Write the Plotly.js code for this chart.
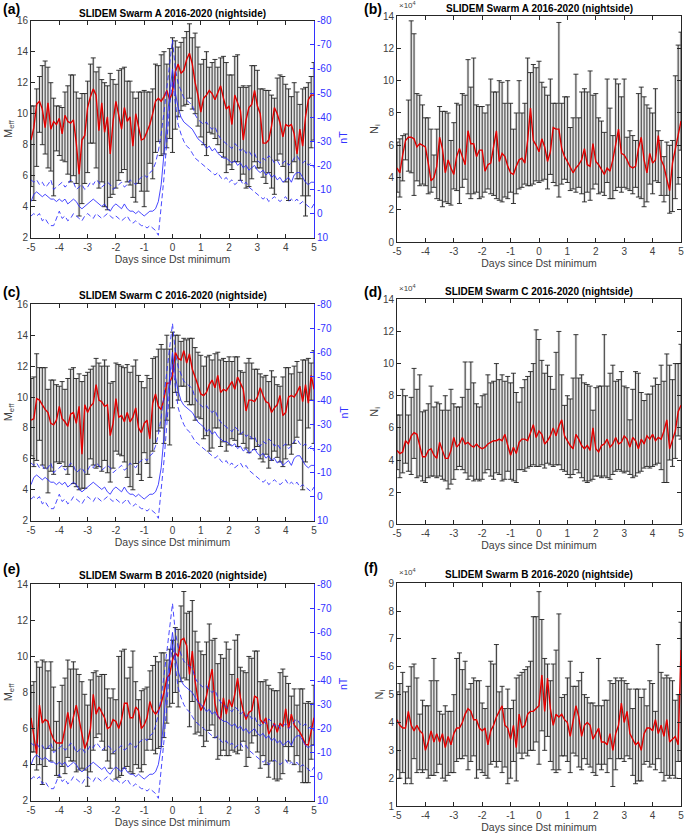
<!DOCTYPE html>
<html><head><meta charset="utf-8">
<script src="https://cdn.plot.ly/plotly-3.0.1.min.js"></script>
<style>html,body{margin:0;padding:0;background:#fff}#chart{width:685px;height:835px}</style>
</head><body><div id="chart"></div>
<script>
// ---------------- data ----------------
const days = [-5,-4.9,-4.8,-4.7,-4.6,-4.5,-4.4,-4.3,-4.2,-4.1,-4,-3.9,-3.8,-3.7,-3.6,-3.5,-3.4,-3.3,-3.2,-3.1,-3,-2.9,-2.8,-2.7,-2.6,-2.5,-2.4,-2.3,-2.2,-2.1,-2,-1.9,-1.8,-1.7,-1.6,-1.5,-1.4,-1.3,-1.2,-1.1,-1,-0.9,-0.8,-0.7,-0.6,-0.5,-0.4,-0.3,-0.2,-0.1,0,0.1,0.2,0.3,0.4,0.5,0.6,0.7,0.8,0.9,1,1.1,1.2,1.3,1.4,1.5,1.6,1.7,1.8,1.9,2,2.1,2.2,2.3,2.4,2.5,2.6,2.7,2.8,2.9,3,3.1,3.2,3.3,3.4,3.5,3.6,3.7,3.8,3.9,4,4.1,4.2,4.3,4.4,4.5,4.6,4.7,4.8,4.9,5];
const dayTickVals = [-5,-4,-3,-2,-1,0,1,2,3,4,5];
const dayTickText = ['-5','-4','-3','-2','-1','0','1','2','3','4','5'];
const meffTicksAC = [2,4,6,8,10,12,14,16];
const meffTicksE = [2,4,6,8,10,12,14];
const niTicksBD = [0,2,4,6,8,10,12,14];
const niTicksF = [1,2,3,4,5,6,7,8,9];
const dstTickVals = [-80,-70,-60,-50,-40,-30,-20,-10,0,10];
const dstTickText = ['-80','-70','-60','-50','-40','-30','-20','-10','0','10'];
const panelTitles = ['SLIDEM Swarm A 2016-2020 (nightside)','SLIDEM Swarm A 2016-2020 (nightside)','SLIDEM Swarm C 2016-2020 (nightside)','SLIDEM Swarm C 2016-2020 (nightside)','SLIDEM Swarm B 2016-2020 (nightside)','SLIDEM Swarm B 2016-2020 (nightside)'];
const panelLetters = ['(a)','(b)','(c)','(d)','(e)','(f)'];

// Panel (a): M_eff Swarm A
const meanA = [8.3,9.1,10.6,10.8,10.3,9.1,10.7,9.0,9.5,9.3, 9.7,8.7,9.9,9.5,9.4,9.6,8.1,6.1,8.3,8.6, 10.4,11.1,11.6,11.2,8.9,10.7,8.8,9.8,7.4,9.5, 10.8,10.0,9.0,10.4,9.5,9.8,7.9,10.0,9.2,8.3, 8.4,8.8,9.3,10.0,10.8,11.0,10.8,11.1,11.5,10.9, 11.4,12.7,13.2,12.6,12.8,13.5,13.9,13.2,12.0,11.2, 10.1,11.0,11.2,11.5,11.3,10.9,11.4,11.8,11.0,10.3, 10.5,9.3,11.2,10.7,10.2,8.3,9.6,10.4,10.6,11.5, 10.5,10.0,8.1,8.1,8.3,9.2,10.4,10.0,9.4,8.5, 9.3,9.2,9.3,8.7,7.4,9.0,7.9,9.8,10.9,11.2,11.2];
const hiA = [10.5,10.5,11.6,12.4,13.1,13.4,13.0,12.0,11.0,10.5, 10.5,10.4,11.4,11.8,12.5,12.5,11.4,11.0,11.3,11.3, 12.1,13.2,13.6,12.7,13.0,12.2,12.0,11.8,12.6,12.2, 11.9,12.8,12.9,13.0,12.1,12.1,11.4,11.0,11.4,11.4, 11.5,11.4,11.4,11.6,13.2,13.1,13.8,14.0,13.2,14.2, 14.9,14.7,14.3,14.6,14.9,15.3,15.8,14.9,15.2,14.3, 13.2,13.5,14.0,13.0,13.3,13.5,13.0,13.6,13.7,13.3, 12.5,12.5,13.7,13.8,11.7,11.8,11.7,11.8,13.1,13.1, 12.8,11.6,11.6,11.5,11.5,11.2,11.0,12.3,12.5,12.4, 11.9,11.6,11.1,12.0,11.4,10.6,11.6,11.7,12.0,12.4,13.3];
const loA = [5.3,4.4,6.6,8.8,8.0,7.4,6.5,6.3,4.7,7.6, 7.3,7.0,6.9,6.1,5.6,6.0,5.5,3.4,4.2,5.5, 6.2,8.1,8.1,6.5,5.2,5.6,4.0,3.8,4.6,4.8, 5.2,5.7,6.2,6.4,5.6,5.4,4.6,4.3,5.5,5.0, 4.0,5.0,6.8,5.8,7.5,8.2,7.3,7.4,7.8,8.4, 7.5,9.0,9.8,10.2,10.5,10.6,11.0,10.3,10.0,9.2, 8.5,8.0,7.3,8.8,8.7,8.4,8.0,7.5,7.2,6.2, 6.7,6.4,6.9,6.9,5.7,6.1,5.2,5.3,5.8,6.9, 6.5,6.5,5.9,5.5,6.2,5.2,4.8,7.0,7.4,6.6, 5.6,4.4,6.2,6.9,5.8,5.8,4.7,3.4,4.7,7.8,8.3];

// Panel (b): N_i Swarm A (x10^4)
const meanB = [4.6,4.3,5.4,6.3,6.5,6.5,6.4,5.9,6.1,6.0, 5.9,4.9,3.8,4.0,4.7,6.5,5.8,4.3,5.1,4.6, 4.2,5.3,5.8,5.3,4.8,6.9,6.1,6.1,5.3,5.7, 5.7,4.4,4.8,4.9,5.9,6.9,5.0,5.5,5.3,4.7, 4.3,4.2,4.7,5.1,5.2,4.9,6.3,8.3,6.3,6.0, 5.6,6.4,5.9,5.0,5.6,7.1,7.0,7.0,5.8,5.3, 5.0,4.6,4.3,4.6,4.8,5.1,5.8,4.8,4.7,6.1, 5.0,4.8,4.5,4.2,4.6,4.4,5.1,6.1,7.0,5.5, 5.4,5.1,4.7,4.6,4.7,5.8,6.5,5.1,4.3,5.5, 4.9,5.1,6.6,5.1,4.7,3.9,3.2,4.9,5.7,6.7,7.5];
const hiB = [6.2,6.4,6.6,6.7,8.8,13.7,12.9,9.2,9.1,8.5, 7.7,7.7,7.0,5.4,7.0,8.4,8.1,8.1,8.0,6.3, 7.4,8.6,8.5,9.2,9.1,11.3,9.6,11.4,8.5,8.4, 8.4,8.0,8.5,10.1,9.3,9.3,10.0,9.9,8.6,10.0, 8.6,7.0,8.0,10.0,8.0,8.6,11.4,10.5,11.0,10.8, 11.2,9.9,9.6,9.1,10.1,8.6,8.6,13.6,8.6,9.0, 9.0,7.1,7.7,10.4,7.7,9.3,9.5,9.3,10.6,9.1, 9.2,7.7,7.5,6.8,10.1,8.3,6.6,10.1,9.8,9.0, 10.1,6.5,6.9,6.6,6.3,9.2,9.6,9.0,8.5,8.3, 8.0,9.5,6.9,6.3,5.3,6.2,6.0,6.3,10.3,12.2,13.0];
const loB = [3.1,2.8,3.8,5.1,4.4,4.3,2.9,3.8,3.5,3.6, 3.5,3.0,3.1,3.4,2.7,2.6,2.2,2.5,2.4,2.3, 3.3,3.2,2.4,3.4,3.9,3.0,2.7,3.0,3.1,2.7, 2.8,3.1,3.3,3.0,2.9,2.7,2.6,2.5,2.8,2.7, 3.1,2.4,3.0,3.3,3.4,3.6,3.5,3.5,3.6,3.8, 3.7,3.8,3.9,3.3,4.2,3.7,3.5,2.8,3.6,3.9, 3.7,3.2,3.3,3.1,3.4,3.0,2.5,3.1,2.6,3.3, 3.6,3.0,3.1,2.9,3.7,2.7,2.7,3.2,3.4,3.1, 3.4,3.3,3.2,3.0,3.4,2.8,2.7,2.2,2.5,3.6, 3.0,3.8,3.7,2.9,2.5,2.9,1.8,1.9,2.7,3.6,5.7];

// Panel (c): M_eff Swarm C
const meanC = [8.5,8.6,9.9,9.8,9.5,9.2,9.0,8.3,8.2,8.5, 9.4,8.6,8.4,8.1,8.9,9.0,8.3,9.4,6.3,9.5, 9.0,9.4,9.6,10.8,9.8,9.7,9.4,9.5,7.5,8.3, 9.9,8.7,8.8,8.4,9.0,8.4,8.7,9.3,8.0,7.7, 8.3,8.5,7.3,9.6,10.2,9.4,9.2,9.9,10.9,10.9, 11.4,12.9,12.5,12.4,13.0,12.2,12.8,11.8,11.3,10.7, 10.2,10.1,10.3,10.8,11.1,10.6,11.4,10.3,10.5,10.4, 10.7,11.0,10.5,11.3,10.9,10.5,9.1,9.8,9.8,9.7, 10.0,10.6,10.1,9.7,9.6,9.0,9.3,9.5,10.1,8.8, 9.0,10.0,10.1,10.0,10.3,10.7,9.7,10.8,9.6,11.4,10.5];
const hiC = [11.2,11.3,12.8,11.9,11.9,11.9,10.5,11.1,11.1,10.8, 10.7,11.0,10.5,11.2,11.8,11.9,11.2,11.5,11.0,11.4, 11.6,11.8,12.0,12.5,12.2,12.0,12.4,12.0,10.9,11.0, 12.2,12.1,12.0,11.9,12.1,11.6,12.0,12.4,11.4,11.0, 10.6,11.4,11.2,12.5,12.6,13.1,13.4,13.1,14.0,13.1, 14.2,14.0,14.0,13.6,13.8,13.7,13.8,13.8,13.2,12.9, 12.7,12.0,12.6,12.7,12.4,12.8,12.9,12.4,12.5,12.3, 12.6,12.3,12.6,12.6,11.7,11.6,12.2,12.5,12.2,11.8, 11.8,11.5,11.3,11.4,11.0,11.7,11.3,10.8,10.7,11.3, 11.9,11.9,11.5,12.0,12.3,11.6,12.4,12.4,12.5,12.2,13.0];
const loC = [6.2,5.5,5.9,7.2,5.6,5.4,3.8,5.2,5.0,5.8, 5.7,5.8,5.5,5.0,5.5,4.4,4.2,4.0,4.1,4.1, 5.0,6.0,5.6,5.4,5.5,5.2,5.9,5.1,4.5,5.4, 6.5,6.3,6.2,5.8,4.8,4.2,4.0,5.7,5.0,4.6, 6.4,5.7,4.8,6.5,7.0,7.8,8.0,7.0,8.5,6.9, 9.3,10.3,9.8,10.7,10.7,9.7,9.5,9.5,8.5,8.7, 8.6,7.3,7.5,6.5,6.7,8.0,8.0,6.8,7.1,6.5, 6.9,7.3,7.2,6.8,7.6,7.0,6.7,6.4,7.3,6.6, 6.8,6.0,5.8,6.3,5.4,5.9,6.5,6.1,5.8,5.5, 6.0,6.9,6.3,7.0,7.4,8.5,4.0,5.8,8.0,9.8,7.0];

// Panel (d): N_i Swarm C (x10^4)
const meanD = [4.6,4.4,4.5,5.2,5.0,5.5,5.7,5.6,4.9,4.2, 4.2,4.6,4.7,4.3,4.1,5.1,4.6,4.1,4.1,4.6, 5.4,4.8,5.0,5.4,5.0,5.1,4.9,4.8,5.0,4.8, 4.7,4.8,5.0,5.1,5.2,5.2,5.3,5.2,5.6,4.9, 4.3,4.8,4.4,5.1,5.3,5.3,5.2,5.7,6.2,5.4, 5.8,5.6,5.0,5.2,5.5,6.0,5.5,6.1,6.5,5.5, 5.2,4.9,4.7,5.6,5.3,4.9,4.7,4.9,4.6,6.0, 4.7,4.5,4.9,5.0,5.3,4.8,5.0,5.4,5.0,5.1, 5.5,5.3,4.8,5.4,5.2,4.7,5.3,5.0,5.5,5.3, 5.6,5.2,5.4,5.3,5.8,6.5,4.7,5.3,5.8,7.0,7.4];
const hiD = [6.8,6.8,8.4,8.0,6.8,7.9,9.7,8.4,9.3,7.0, 7.1,7.5,8.6,7.3,7.6,7.5,7.1,8.0,7.1,8.4, 7.5,7.3,7.3,7.9,10.1,8.4,10.1,8.8,7.5,7.3, 8.0,8.1,9.3,8.8,8.9,10.0,9.0,9.3,8.9,9.2, 8.8,9.4,8.2,7.6,8.5,9.0,9.2,9.5,10.0,12.1, 11.5,10.2,9.4,9.9,9.2,8.4,10.7,12.0,9.3,7.4, 8.0,7.8,9.1,11.8,9.1,9.3,8.8,8.7,8.6,7.1, 8.5,8.6,8.6,11.8,8.6,9.4,9.9,8.9,9.0,9.5, 8.6,8.5,6.5,8.4,9.5,9.4,8.2,7.7,8.1,8.1, 8.6,9.1,8.7,9.9,8.9,10.6,9.9,9.0,10.0,10.0,11.2];
const loD = [3.4,2.9,3.2,3.8,3.3,3.1,4.1,2.9,3.0,2.7, 2.6,2.9,3.0,3.0,2.9,3.0,2.8,2.7,2.2,2.5, 2.8,3.4,3.6,3.4,3.2,2.8,3.0,2.7,2.8,2.7, 2.8,3.2,3.4,3.0,2.8,3.2,3.1,2.7,2.8,3.3, 2.8,2.7,2.6,3.4,3.4,3.3,3.5,3.6,3.7,3.6, 3.6,3.7,3.5,3.8,3.7,3.6,3.7,3.7,3.4,3.3, 3.1,2.9,3.1,3.4,3.2,2.9,2.7,2.6,2.7,2.8, 3.0,3.0,2.9,3.0,2.9,2.8,3.1,3.3,3.4,3.3, 3.2,3.3,3.1,2.9,3.0,3.2,3.3,3.5,3.6,3.5, 3.6,3.7,3.8,3.4,2.6,2.6,4.0,3.6,4.1,5.5,5.3];

// Panel (e): M_eff Swarm B
const meanE = [6.6,5.6,4.6,7.3,6.3,6.5,6.4,5.8,5.4,5.2, 5.2,5.2,6.0,6.9,6.0,6.7,7.3,6.5,5.6,4.9, 5.3,6.0,7.9,6.8,7.2,6.9,6.6,6.0,6.1,6.5, 6.4,6.0,6.5,7.4,7.4,6.6,6.6,7.2,7.0,6.0, 6.2,6.6,7.5,7.0,6.8,7.0,7.4,8.0,8.8,9.0, 9.8,10.2,10.0,10.9,11.0,10.6,9.0,10.3,8.6,7.6, 7.0,7.3,7.8,8.6,9.3,7.4,6.7,6.5,7.7,6.8, 7.6,7.2,7.9,8.8,7.7,7.0,6.5,6.9,7.0,7.8, 7.7,6.5,6.3,6.6,5.7,6.0,6.3,5.8,6.3,6.1, 7.1,6.0,6.8,6.2,6.0,5.8,5.5,5.1,5.1,5.8,6.6];
const hiE = [8.4,8.6,9.7,9.4,9.8,9.7,9.2,9.7,8.3,6.4, 7.5,8.4,8.8,9.8,9.3,9.7,9.3,9.0,8.6,7.9, 7.3,8.7,9.1,9.2,8.9,9.0,9.0,8.2,7.7,8.2, 7.6,10.0,10.3,10.4,8.8,9.4,10.3,8.6,7.6,8.1, 8.2,8.3,9.2,9.5,10.0,9.7,10.2,10.2,9.8,10.4, 10.9,11.6,11.5,12.8,13.6,12.4,12.5,13.1,11.4,10.8, 10.3,10.1,10.8,11.8,10.9,11.0,9.6,10.1,9.9,10.8, 10.4,9.0,10.9,11.2,9.4,9.2,9.1,10.0,9.9,10.3, 10.3,8.6,8.6,8.7,8.4,8.2,8.1,8.1,9.1,9.3, 8.9,8.5,7.8,8.2,7.3,8.2,8.2,7.4,7.5,7.4,8.4];
const loE = [4.7,4.7,3.7,4.0,2.9,3.9,4.9,4.2,4.8,3.4, 3.3,3.9,3.5,4.4,4.2,4.2,3.6,3.7,3.8,3.7, 2.8,3.6,4.8,5.5,5.7,5.3,4.8,4.2,3.8,4.6, 3.2,3.3,3.4,3.8,3.9,3.6,3.5,4.0,3.8,3.6, 4.0,4.8,5.4,4.8,4.6,4.9,5.0,5.5,6.3,7.2, 7.4,8.0,7.2,8.6,8.8,8.7,6.1,7.5,5.7,5.8, 5.6,5.0,5.3,5.9,6.2,5.5,4.3,4.5,4.8,4.5, 4.5,4.8,4.7,4.6,4.8,5.3,3.9,4.4,5.2,5.6, 4.7,3.8,4.5,4.0,3.3,4.2,3.2,3.1,3.2,3.5, 5.0,4.2,5.0,4.0,4.5,3.6,3.0,3.0,3.0,4.3,5.1];

// Panel (f): N_i Swarm B (x10^4)
const meanF = [4.1,3.9,3.8,3.8,4.4,3.9,3.7,3.9,3.7,3.6, 3.0,3.3,3.7,3.3,3.6,3.3,3.6,3.1,3.5,3.2, 3.6,3.8,3.8,4.0,4.3,4.5,4.4,4.1,4.1,3.8, 3.7,3.8,3.2,3.7,3.9,4.2,4.4,4.6,3.9,3.8, 3.4,3.9,3.1,4.3,3.8,3.9,4.3,4.4,4.4,4.5, 4.6,5.7,4.4,5.6,4.5,3.9,4.3,4.2,4.3,4.1, 4.0,3.5,4.0,4.6,4.2,3.5,3.9,4.0,3.9,3.4, 3.6,3.8,3.3,3.3,3.2,3.6,3.0,3.6,3.9,4.7, 4.0,4.4,3.6,3.4,3.2,3.3,3.0,3.6,3.8,3.8, 3.7,4.1,3.6,3.9,3.5,4.1,3.3,3.4,3.5,3.2,6.6];
const hiF = [5.1,5.4,5.8,5.1,5.3,6.0,6.1,5.6,4.3,4.8, 4.6,4.6,5.5,6.3,5.5,4.4,4.3,4.6,4.4,4.4, 5.0,6.3,6.5,5.9,6.2,5.2,5.4,5.6,5.5,5.5, 4.7,4.5,5.3,6.2,6.1,6.8,5.1,5.3,4.5,5.2, 4.5,4.8,5.6,5.7,5.8,5.9,6.0,6.2,7.8,7.8, 8.7,7.7,6.3,6.1,5.5,6.1,6.6,7.9,4.9,5.0, 5.6,6.2,5.3,5.3,5.5,5.8,5.0,4.9,4.7,4.7, 4.6,6.3,4.6,4.8,4.8,5.5,5.4,5.6,5.5,5.6, 5.5,5.4,5.2,4.5,5.2,5.2,4.9,5.2,4.6,5.5, 5.4,4.4,6.8,5.8,5.6,5.7,5.6,5.5,4.8,5.0,7.6];
const loF = [2.3,2.0,2.2,1.8,2.0,1.8,2.7,2.2,2.3,2.2, 2.3,2.0,2.1,2.1,2.2,2.5,2.0,1.9,2.1,2.2, 2.2,2.6,2.7,2.7,2.8,2.3,2.6,2.8,2.0,2.3, 2.2,2.1,2.0,2.5,2.6,2.4,2.6,2.2,2.4,1.8, 2.0,2.6,1.9,2.9,2.7,2.9,2.8,3.0,3.0,3.3, 2.5,3.7,3.0,3.5,2.6,2.3,2.2,2.3,2.8,2.8, 2.6,2.2,2.9,2.8,2.4,2.3,2.7,2.5,2.4,2.2, 2.1,2.5,2.3,2.5,2.2,2.7,1.7,2.3,2.7,2.7, 2.6,2.8,2.7,2.1,1.8,1.9,1.9,2.5,2.6,2.4, 2.5,2.3,2.7,2.2,1.9,2.1,2.0,2.1,2.0,2.6,2.6];

// Dst (nT): median and quartiles of the storm epochs
const dstMedian = [-5,-8,-9,-8,-7,-8,-7,-6,-6,-5, -6,-5,-6,-4,-5,-6,-5,-3,-2,-3, -4,-5,-6,-5,-4,-3,-4,-2,-1,-3, -4,-3,-2,-4,-2,-1,-1,0,-1,0, 1,0,-1,-1,-2,-5,-12,-25,-38,-50, -60,-50,-44,-40,-38,-37,-36,-35,-33,-31, -30,-29,-27,-28,-26,-27,-25,-24,-23,-23, -22,-21,-22,-20,-21,-19,-20,-18,-19,-20, -18,-17,-18,-16,-17,-15,-16,-14,-15,-13, -14,-15,-13,-16,-17,-17,-15,-13,-12,-13,-13];
const dstQ1 = [-14,-13,-14,-12,-13,-11,-12,-14,-10,-11, -12,-13,-11,-12,-14,-13,-10,-11,-12,-10, -11,-13,-12,-14,-13,-11,-12,-13,-12,-10, -11,-12,-13,-11,-12,-14,-13,-12,-14,-15, -16,-15,-17,-18,-21,-26,-33,-42,-52,-62, -72,-60,-54,-51,-48,-47,-46,-45,-41,-39, -38,-37,-38,-36,-35,-36,-33,-31,-30,-29, -28,-27,-29,-28,-26,-27,-25,-26,-24,-25, -22,-21,-23,-22,-24,-23,-21,-22,-20,-21, -22,-20,-21,-23,-24,-22,-21,-22,-20,-21,-19];
const dstQ3 = [1,0,1,0,3,2,4,5,5,2, -1,2,1,3,2,0,1,2,3,1, 0,1,2,0,1,2,1,0,1,2, 1,2,3,2,1,3,4,3,4,5, 5,6,5,6,7,9,-2,-15,-30,-45, -55,-45,-37,-33,-30,-28,-27,-25,-23,-22, -21,-20,-19,-18,-17,-16,-17,-15,-14,-15, -13,-14,-12,-13,-14,-12,-13,-11,-10,-9, -8,-7,-6,-7,-5,-6,-7,-6,-5,-6, -7,-5,-6,-5,-6,-4,-5,-4,-3,-2,-4];

// ---------------- layout helpers ----------------
const W = 685, H = 835;
const FONT = 'Liberation Sans, Arial, Helvetica, sans-serif';
const TXT = '#404040';
const AX = '#262626';
const BLUE = 'rgb(50,50,255)';
const fx = p => p / W;
const fy = p => 1 - p / H;

// pixel boxes of each panel: [left, right, top, bottom]
const boxes = [
  [31, 314, 20.7, 237.7],
  [397, 681, 16, 242.3],
  [31, 314, 304.3, 520.7],
  [397, 681, 299.3, 524.3],
  [31, 314, 584.3, 800.7],
  [397, 681, 583.3, 806]
];
const panels = [
  {mean: meanA, hi: hiA, lo: loA, yr: [2, 16], yt: meffTicksAC, ylab: 'M<sub>eff</sub>', dst: true},
  {mean: meanB, hi: hiB, lo: loB, yr: [0, 14], yt: niTicksBD, ylab: 'N<sub>i</sub>', dst: false},
  {mean: meanC, hi: hiC, lo: loC, yr: [2, 16], yt: meffTicksAC, ylab: 'M<sub>eff</sub>', dst: true},
  {mean: meanD, hi: hiD, lo: loD, yr: [0, 14], yt: niTicksBD, ylab: 'N<sub>i</sub>', dst: false},
  {mean: meanE, hi: hiE, lo: loE, yr: [2, 14], yt: meffTicksE, ylab: 'M<sub>eff</sub>', dst: true},
  {mean: meanF, hi: hiF, lo: loF, yr: [1, 9], yt: niTicksF, ylab: 'N<sub>i</sub>', dst: false}
];
const titleY = [13.3, 8.3, 295, 291.7, 575, 574];
const letterY = [8.5, 8.5, 292, 292, 569, 568];

const traces = [];
const layout = {
  width: W, height: H,
  margin: {l: 0, r: 0, t: 0, b: 0},
  paper_bgcolor: '#fff', plot_bgcolor: '#fff',
  showlegend: false,
  font: {family: FONT, color: TXT, size: 10},
  annotations: []
};

let secIdx = 7;
panels.forEach((p, i) => {
  const k = i + 1;
  const [L, R, T, B] = boxes[i];
  const xa = 'x' + k, ya = 'y' + k;
  const xKey = k === 1 ? 'xaxis' : 'xaxis' + k;
  const yKey = k === 1 ? 'yaxis' : 'yaxis' + k;

  layout[xKey] = {
    domain: [fx(L), fx(R)], anchor: ya, range: [-5, 5],
    tickvals: dayTickVals, ticktext: dayTickText,
    ticks: 'inside', ticklen: 4, tickwidth: 1, tickcolor: AX,
    showline: true, linecolor: AX, linewidth: 1, mirror: 'ticks',
    showgrid: false, zeroline: false,
    tickfont: {family: FONT, size: 10, color: TXT},
    title: {text: 'Days since Dst minimum', font: {family: FONT, size: 10.5, color: TXT}, standoff: 3}
  };
  layout[yKey] = {
    domain: [fy(B), fy(T)], anchor: xa, range: p.yr,
    tickvals: p.yt, ticktext: p.yt.map(String),
    ticks: 'inside', ticklen: 4, tickwidth: 1, tickcolor: AX,
    showline: true, linecolor: AX, linewidth: 1, mirror: p.dst ? false : 'ticks',
    showgrid: false, zeroline: false,
    tickfont: {family: FONT, size: 10, color: TXT},
    title: {text: p.ylab, font: {family: FONT, size: 11, color: TXT}, standoff: 2}
  };

  // light grey band behind the dense error bars
  traces.push({x: days, y: p.hi, xaxis: xa, yaxis: ya, type: 'scatter', mode: 'lines',
    line: {width: 0, shape: 'hvh'}, hoverinfo: 'skip'});
  traces.push({x: days, y: p.lo, xaxis: xa, yaxis: ya, type: 'scatter', mode: 'lines',
    line: {width: 0, shape: 'hvh'}, fill: 'tonexty', fillcolor: 'rgba(0,0,0,0.11)', hoverinfo: 'skip'});
  // error bars
  traces.push({
    x: days, y: p.mean, xaxis: xa, yaxis: ya, type: 'scatter', mode: 'markers',
    marker: {size: 2, color: 'rgba(0,0,0,0)'},
    error_y: {type: 'data', symmetric: false,
      array: p.hi.map((v, j) => v - p.mean[j]),
      arrayminus: p.lo.map((v, j) => p.mean[j] - v),
      color: '#222', thickness: 0.9, width: 2.5}
  });
  // mean line
  traces.push({x: days, y: p.mean, xaxis: xa, yaxis: ya, type: 'scatter', mode: 'lines',
    line: {color: 'rgb(225,0,0)', width: 1.4}});

  if (p.dst) {
    const yk2 = 'y' + secIdx;
    layout['yaxis' + secIdx] = {
      overlaying: ya, side: 'right', anchor: xa, range: [10, -80],
      tickvals: dstTickVals, ticktext: dstTickText,
      ticks: 'inside', ticklen: 4, tickwidth: 1, tickcolor: BLUE,
      showline: true, linecolor: BLUE, linewidth: 1,
      showgrid: false, zeroline: false,
      tickfont: {family: FONT, size: 10, color: BLUE}
    };
    const dstLine = (arr, dash) => ({x: days, y: arr, xaxis: xa, yaxis: yk2, type: 'scatter', mode: 'lines',
      line: {color: 'rgba(40,40,255,0.85)', width: 1, dash: dash}});
    traces.push(dstLine(dstQ1, '5px,3px'));
    traces.push(dstLine(dstMedian, 'solid'));
    traces.push(dstLine(dstQ3, '5px,3px'));
    layout.annotations.push({text: 'nT', x: fx(343), y: fy((T + B) / 2), xref: 'paper', yref: 'paper',
      showarrow: false, textangle: -90, font: {family: FONT, size: 10.5, color: BLUE}});
    secIdx++;
  } else {
    layout.annotations.push({text: '\u00d710<sup>4</sup>', x: fx(L), y: fy(T - 4), xref: 'paper', yref: 'paper',
      xanchor: 'left', yanchor: 'bottom', showarrow: false, font: {family: FONT, size: 8, color: TXT}});
  }

  layout.annotations.push({text: '<b>' + panelTitles[i] + '</b>', x: fx((L + R) / 2), y: fy(titleY[i]),
    xref: 'paper', yref: 'paper', showarrow: false, xanchor: 'center', yanchor: 'middle',
    font: {family: FONT, size: 10, color: '#000'}});
  layout.annotations.push({text: '<b>' + panelLetters[i] + '</b>', x: fx(L < 100 ? 1 : 362), y: fy(letterY[i]),
    xref: 'paper', yref: 'paper', showarrow: false, xanchor: 'left', yanchor: 'middle',
    font: {family: FONT, size: 14, color: '#000'}});
});

Plotly.newPlot('chart', traces, layout, {staticPlot: true, displayModeBar: false});
</script>
</body></html>
